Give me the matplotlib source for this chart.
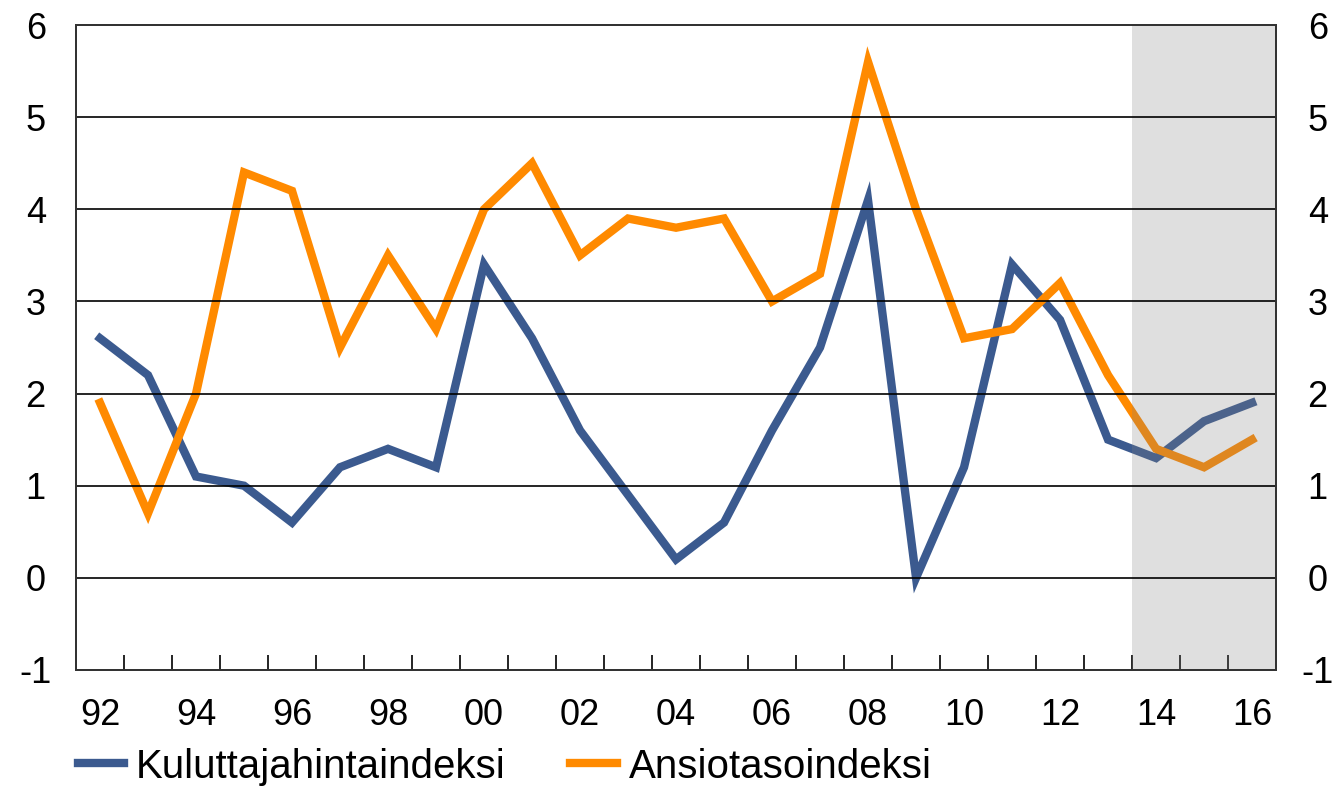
import numpy as np
import matplotlib
matplotlib.use("Agg")
import matplotlib.pyplot as plt

years = list(range(1992, 2017))
kuluttaja = [2.6, 2.2, 1.1, 1.0, 0.6, 1.2, 1.4, 1.2, 3.4, 2.6, 1.6, 0.9, 0.2,
             0.6, 1.6, 2.5, 4.1, 0.0, 1.2, 3.4, 2.8, 1.5, 1.3, 1.7, 1.9]
ansio = [1.9, 0.7, 2.0, 4.4, 4.2, 2.5, 3.5, 2.7, 4.0, 4.5, 3.5, 3.9, 3.8,
         3.9, 3.0, 3.3, 5.6, 4.0, 2.6, 2.7, 3.2, 2.2, 1.4, 1.2, 1.5]
labels = ["Kuluttajahintaindeksi", "Ansiotasoindeksi"]
forecast_start = 2014

plt.rcParams['font.family'] = ['Liberation Sans', 'DejaVu Sans']
plt.rcParams['axes.unicode_minus'] = False

fig = plt.figure(figsize=(13.38, 7.87), dpi=100)
ax = fig.add_axes([0.0568, 0.1487, 0.8969, 0.8195])

ax.plot(years, kuluttaja, color='#3B5A8F', lw=6, label=labels[0],
        solid_joinstyle='miter', zorder=3)
ax.plot(years, ansio, color='#FF8A00', lw=6, label=labels[1],
        solid_joinstyle='miter', zorder=3)

# forecast shading drawn over the lines
ax.axvspan(forecast_start - 0.5, years[-1] + 0.5, color='#808080', alpha=0.25,
           lw=0, zorder=4)

ax.set_xlim(years[0] - 0.5, years[-1] + 0.5)
ax.set_ylim(-1, 6)
for y in range(0, 6):
    ax.axhline(y, color='black', lw=1.2, zorder=5)

ax.set_xticks([y for y in years if y % 2 == 0])
ax.set_xticklabels([f"{y % 100:02d}" for y in years if y % 2 == 0])
ax.set_xticks(np.arange(years[0] + 0.5, years[-1]), minor=True)
ax.tick_params(axis='x', which='major', length=0, pad=20, labelsize=26)
ax.tick_params(axis='x', which='minor', direction='in', length=11, width=1.2)

ax.set_yticks(range(-1, 7))
ax.tick_params(axis='y', length=0, labelsize=26, pad=29)
for lab in ax.get_yticklabels():
    lab.set_horizontalalignment('center')

ax2 = ax.twinx()
ax2.set_ylim(ax.get_ylim())
ax2.set_yticks(range(-1, 7))
ax2.tick_params(axis='y', length=0, labelsize=26, pad=30)
for lab in ax2.get_yticklabels():
    lab.set_horizontalalignment('center')

for a in (ax, ax2):
    for s in a.spines.values():
        s.set_linewidth(1.4)
        s.set_color('#333333')
        s.set_zorder(6)

fig.legend(handles=ax.get_lines()[:2], loc='center left',
           bbox_to_anchor=(0.058, 0.026), ncol=2, borderpad=0,
           borderaxespad=0, frameon=False, fontsize=29, handlelength=1.15,
           handletextpad=0.3, columnspacing=1.6)

fig.savefig("out.png", dpi=100)
